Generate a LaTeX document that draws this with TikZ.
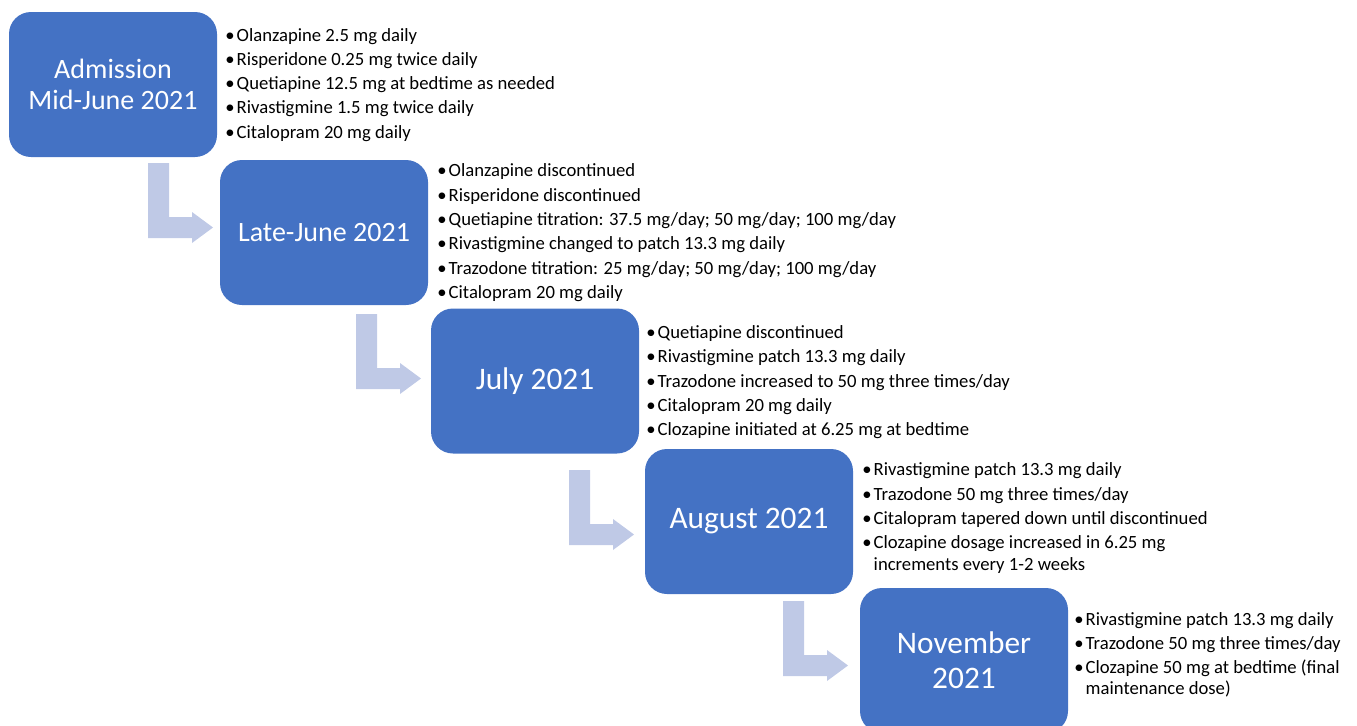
\documentclass[tikz,border=0pt]{standalone}
\usepackage{fontspec}
\setmainfont{Carlito}
\definecolor{boxblue}{HTML}{4472C4}
\definecolor{arrowcol}{RGB}{191,201,230}
\tikzset{
  phase/.style={fill=boxblue, text=white, rounded corners=16.5pt, minimum width=156pt,
    minimum height=108.75pt, inner sep=0pt, align=center},
  titlefont/.style 2 args={font=\fontsize{#1}{#2}\selectfont},
  meds/.style={anchor=base west, inner sep=0pt, align=left, font=\fontsize{14}{16}\selectfont},
  bentfill/.style={fill=arrowcol},
}
\newcommand\bul{\makebox[8.6pt][l]{•}}
\newcommand\ind{\hspace*{8.6pt}}
\newcommand\bentarrow[3]{\fill[bentfill] (#2,#3) coordinate (#1) -- ++(21,0) -- ++(0,54) -- ++(23,0) -- ++(0,-5) -- ++(21,15.5) -- ++(-21,15.5) -- ++(0,-5) -- ++(-44,0) -- cycle;}
\begin{document}
\begin{tikzpicture}[x=0.75pt,y=-0.75pt]
\useasboundingbox (0,0) rectangle (1357,725);
\clip (0,0) rectangle (1357,725);
% phase boxes
\node[phase, titlefont={21}{23.25}] (b1) at (113,84.5) {Admission\\Mid-June 2021};
\node[phase, titlefont={21}{23.25}] (b2) at (324,232.5) {Late-June 2021};
\node[phase, titlefont={23.5}{26}] (b3) at (535,381) {July 2021};
\node[phase, titlefont={23.5}{26}] (b4) at (749,521.5) {August 2021};
\node[phase, titlefont={23.5}{26.25}] (b5) at (964,660.5) {November\\2021};
% bent arrows
\bentarrow{a1}{148}{163}
\bentarrow{a2}{356}{314}
\bentarrow{a3}{569}{470}
\bentarrow{a4}{783}{601}
% medication lists (anchored at the baseline of their last line)
\node[meds] (m1) at (225,138.1) {\bul Olanzapine 2.5 mg daily\\[2.2pt]
\bul Risperidone 0.25 mg twice daily\\[2.2pt]
\bul Quetiapine 12.5 mg at bedtime as needed\\[2.2pt]
\bul Rivastigmine 1.5 mg twice daily\\[2.2pt]
\bul Citalopram 20 mg daily};
\node[meds] (m2) at (437,298.3) {\bul Olanzapine discontinued\\[2.2pt]
\bul Risperidone discontinued\\[2.2pt]
\bul Quetiapine titration: 37.5 mg/day; 50 mg/day; 100 mg/day\\[2.2pt]
\bul Rivastigmine changed to patch 13.3 mg daily\\[2.2pt]
\bul Trazodone titration: 25 mg/day; 50 mg/day; 100 mg/day\\[2.2pt]
\bul Citalopram 20 mg daily};
\node[meds] (m3) at (646,435.6) {\bul Quetiapine discontinued\\[2.2pt]
\bul Rivastigmine patch 13.3 mg daily\\[2.2pt]
\bul Trazodone increased to 50 mg three times/day\\[2.2pt]
\bul Citalopram 20 mg daily\\[2.2pt]
\bul Clozapine initiated at 6.25 mg at bedtime};
\node[meds] (m4) at (862,570.1) {\bul Rivastigmine patch 13.3 mg daily\\[2.2pt]
\bul Trazodone 50 mg three times/day\\[2.2pt]
\bul Citalopram tapered down until discontinued\\[2.2pt]
\bul Clozapine dosage increased in 6.25 mg\\
\ind increments every 1-2 weeks};
\node[meds] (m5) at (1074,694.9) {\bul Rivastigmine patch 13.3 mg daily\\[2.2pt]
\bul Trazodone 50 mg three times/day\\[2.2pt]
\bul Clozapine 50 mg at bedtime (final\\
\ind maintenance dose)};
\end{tikzpicture}
\end{document}
